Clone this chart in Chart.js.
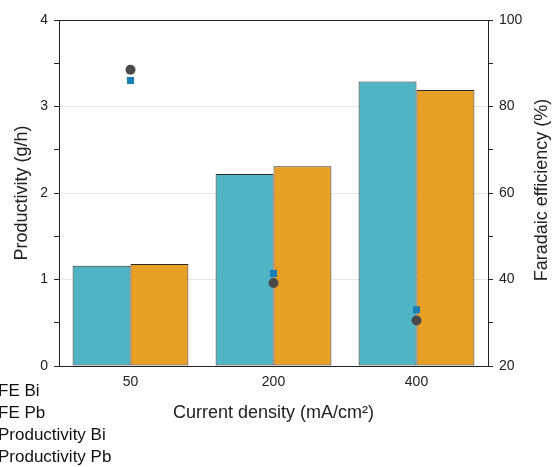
<!DOCTYPE html>
<html lang="en">
<head>
<meta charset="UTF-8" />
<title>Productivity and Faradaic efficiency</title>
<script src="https://cdn.jsdelivr.net/npm/chart.js"></script>
<style>
  body { margin: 0; background: #fff; }
  .wrap { position: relative; width: 553px; height: 467px; }
</style>
</head>
<body>
<div class="wrap"><canvas id="chart"></canvas></div>
<script>
// data
const categories = ['50', '200', '400'];
const productivityBi = [1.16, 2.22, 3.29];
const productivityPb = [1.18, 2.31, 3.19];
const feBi = [88.5, 39.2, 30.5];
const fePb = [86.0, 41.4, 33.0];
const leftTicks = [0, 1, 2, 3, 4];
const rightTicks = [20, 40, 60, 80, 100];
const rightTitle = 'Faradaic efficiency (%)';

const FONT = '"Liberation Sans", Arial, sans-serif';
Chart.defaults.font.family = FONT;
Chart.defaults.color = '#222';

// frame top line, right title (reads bottom-to-top) and legend text
// (legend markers sit off the left edge in the original)
const extras = {
  id: 'extras',
  afterDraw(chart) {
    const { ctx, chartArea: a } = chart;
    ctx.save();
    ctx.strokeStyle = '#222';
    ctx.lineWidth = 1;
    ctx.beginPath();
    ctx.moveTo(a.left, a.top + 0.5);
    ctx.lineTo(a.right, a.top + 0.5);
    ctx.stroke();

    ctx.fillStyle = '#222';
    ctx.font = '18px ' + FONT;
    ctx.textAlign = 'center';
    ctx.textBaseline = 'middle';
    ctx.save();
    ctx.translate(542, (a.top + a.bottom) / 2 - 3);
    ctx.rotate(-Math.PI / 2);
    ctx.fillText(rightTitle, 0, 0);
    ctx.restore();

    ctx.fillStyle = '#111';
    ctx.font = '17px ' + FONT;
    ctx.textAlign = 'left';
    const ys = [391, 413, 435, 457];
    chart.data.datasets.forEach((ds, i) => ctx.fillText(ds.label, -2, ys[i]));
    ctx.restore();
  }
};

const ctx = document.getElementById('chart').getContext('2d');

new Chart(ctx, {
  type: 'bar',
  data: {
    labels: categories,
    datasets: [
      {
        type: 'line', label: 'FE Bi', data: feBi, yAxisID: 'y1',
        showLine: false, pointStyle: 'circle', pointRadius: 5,
        backgroundColor: '#4a4a4a', borderColor: '#4a4a4a', borderWidth: 0, order: 0
      },
      {
        type: 'line', label: 'FE Pb', data: fePb, yAxisID: 'y1',
        showLine: false, pointStyle: 'rect', pointRadius: 5,
        backgroundColor: '#1a7db3', borderColor: '#1a7db3', borderWidth: 0, order: 1
      },
      {
        label: 'Productivity Bi', data: productivityBi, yAxisID: 'y',
        backgroundColor: '#4fb5c4', borderColor: '#2b2b2b', borderWidth: 1,
        borderSkipped: false, order: 2
      },
      {
        label: 'Productivity Pb', data: productivityPb, yAxisID: 'y',
        backgroundColor: '#e8a024', borderColor: '#2b2b2b', borderWidth: 1,
        borderSkipped: false, order: 3
      }
    ]
  },
  options: {
    responsive: true,
    maintainAspectRatio: false,
    animation: false,
    layout: { padding: { top: 20, left: 0, right: 0, bottom: 0 } },
    datasets: { bar: { categoryPercentage: 0.81, barPercentage: 1.0 } },
    plugins: { legend: { display: false }, tooltip: { enabled: false } },
    scales: {
      x: {
        afterFit: s => { s.height = 101; },
        grid: { drawOnChartArea: false, drawTicks: false },
        border: { color: '#222', width: 1 },
        ticks: { font: { size: 14 }, color: '#222', padding: 8 },
        title: {
          display: true, text: 'Current density (mA/cm²)',
          font: { size: 18 }, color: '#222', padding: { top: 0, bottom: 43 }
        }
      },
      y: {
        position: 'left',
        min: 0, max: 4,
        afterFit: s => { s.width = 59; },
        ticks: {
          stepSize: 0.5, font: { size: 14 }, color: '#222', padding: 6,
          callback: v => leftTicks.includes(v) ? v : ''
        },
        grid: {
          tickLength: 5,
          color: c => (c.tick && leftTicks.includes(c.tick.value) && c.tick.value > 0 && c.tick.value < 4) ? '#e6e6e6' : 'rgba(0,0,0,0)',
          tickColor: '#222'
        },
        border: { color: '#222', width: 1 },
        title: {
          display: true, text: 'Productivity (g/h)',
          font: { size: 18 }, color: '#222', padding: { top: 11, bottom: 0 }
        }
      },
      y1: {
        position: 'right',
        min: 20, max: 100,
        afterFit: s => { s.width = 65; },
        ticks: {
          stepSize: 10, font: { size: 14 }, color: '#222', padding: 6,
          callback: v => rightTicks.includes(v) ? v : ''
        },
        grid: { drawOnChartArea: false, tickLength: 5, tickColor: '#222' },
        border: { color: '#222', width: 1 }
      }
    }
  },
  plugins: [extras]
});
</script>
</body>
</html>
